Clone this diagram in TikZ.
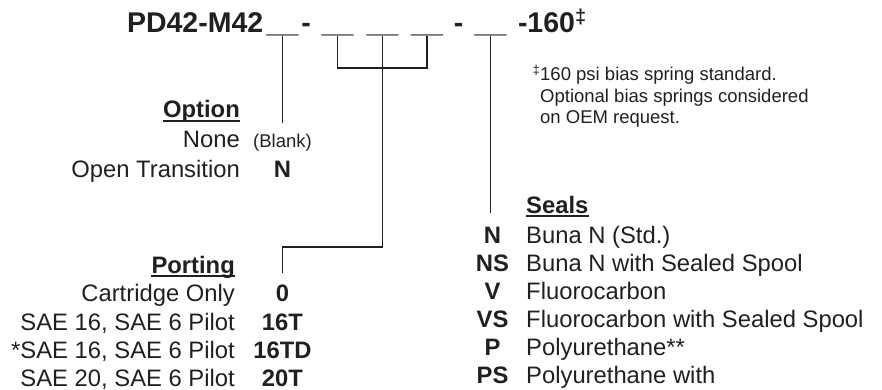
\documentclass[tikz,border=0pt]{standalone}
\usepackage{fontspec}
\setmainfont{Liberation Sans}
\definecolor{ink}{RGB}{35,31,32}
\tikzset{
    partno/.style={font=\fontsize{28.5}{30}\selectfont\bfseries, text=ink, inner sep=0pt, outer sep=0pt, anchor=base},
    head/.style={font=\fontsize{23.8}{28}\selectfont\bfseries, text=ink, inner sep=0pt},
    entry/.style={font=\fontsize{23.8}{28}\selectfont, text=ink, inner sep=0pt},
    code/.style={font=\fontsize{23.8}{28}\selectfont\bfseries, text=ink, inner sep=0pt, anchor=base},
    remark/.style={font=\fontsize{18.5}{21}\selectfont, text=ink, inner sep=0pt, anchor=base west},
    lead/.style={draw=ink, line width=1.2pt},
    rule/.style={draw=ink, line width=1.4pt}
}
\begin{document}
\begin{tikzpicture}[x=1pt,y=-1pt]
    \useasboundingbox (0,0) rectangle (882,390);
    % part number
    \node[partno, anchor=base west] (pn) at (127,33) {PD42-M42};
    \node[partno] (b1) at (282.5,33) {\_\_};
    \node[partno] (d1) at (306,33) {-};
    \node[partno] (b2) at (337.5,33) {\_\_};
    \node[partno] (b3) at (382.5,33) {\_\_};
    \node[partno] (b4) at (427,33) {\_\_};
    \node[partno] (d2) at (458.5,33) {-};
    \node[partno] (b5) at (490.5,33) {\_\_};
    \node[partno, anchor=base west] (tail) at (518,33) {-160\textsuperscript{‡}};
    % footnote
    \node[remark] (fn1) at (540,81) {\llap{\textsuperscript{‡}}160 psi bias spring standard.};
    \node[remark] (fn2) at (540,103) {Optional bias springs considered};
    \node[remark] (fn3) at (540,124) {on OEM request.};
    % option
    \node[head, anchor=base east] (opthd) at (240,118) {Option};
    \node[entry, anchor=base east] (none) at (240,148) {None};
    \node[entry, font=\fontsize{18.5}{21}\selectfont, anchor=base] (blank) at (282.5,148) {(Blank)};
    \node[entry, anchor=base east] (open) at (240,177) {Open Transition};
    \node[code] (optn) at (282.5,177) {N};
    % porting
    \node[head, anchor=base east] (porthd) at (235,273) {Porting};
    \node[entry, anchor=base east] (cart) at (235,301) {Cartridge Only};
    \node[code] (p0) at (282.5,301) {0};
    \node[entry, anchor=base east] (sae16) at (235,330) {SAE 16, SAE 6 Pilot};
    \node[code] (p16t) at (282.5,330) {16T};
    \node[entry, anchor=base east] (sae16d) at (235,358) {*SAE 16, SAE 6 Pilot};
    \node[code] (p16td) at (282.5,358) {16TD};
    \node[entry, anchor=base east] (sae20) at (235,386) {SAE 20, SAE 6 Pilot};
    \node[code] (p20t) at (282.5,386) {20T};
    % seals
    \node[head, anchor=base west] (sealhd) at (526,213) {Seals};
    \node[code] (sn) at (492.5,243) {N};
    \node[entry, anchor=base west] (buna) at (526,243) {Buna N (Std.)};
    \node[code] (sns) at (492.5,271) {NS};
    \node[entry, anchor=base west] (bunas) at (526,271) {Buna N with Sealed Spool};
    \node[code] (sv) at (492.5,299) {V};
    \node[entry, anchor=base west] (fluoro) at (526,299) {Fluorocarbon};
    \node[code] (svs) at (492.5,327) {VS};
    \node[entry, anchor=base west] (fluoros) at (526,327) {Fluorocarbon with Sealed Spool};
    \node[code] (sp) at (492.5,355) {P};
    \node[entry, anchor=base west] (poly) at (526,355) {Polyurethane**};
    \node[code] (sps) at (492.5,383) {PS};
    \node[entry, anchor=base west] (polys) at (526,383) {Polyurethane with};
    % header underlines
    \draw[rule] ([yshift=-3pt]opthd.base west) -- ([yshift=-3pt]opthd.base east);
    \draw[rule] ([yshift=-3pt]porthd.base west) -- ([yshift=-3pt]porthd.base east);
    \draw[rule] ([yshift=-3pt]sealhd.base west) -- ([yshift=-3pt]sealhd.base east);
    % leaders
    \coordinate (optend) at (282.5,123);
    \coordinate (brk) at (0,68);
    \coordinate (turn) at (282.5,247);
    \coordinate (portend) at (282.5,273);
    \coordinate (sealend) at (490.5,213);
    \draw[lead] (b1.south) -- (optend);
    \draw[lead] (b2.south) |- (b4.south |- brk) -- (b4.south);
    \draw[lead] (b3.south) |- (turn) -- (portend);
    \draw[lead] (b5.south) -- (sealend);
\end{tikzpicture}
\end{document}
